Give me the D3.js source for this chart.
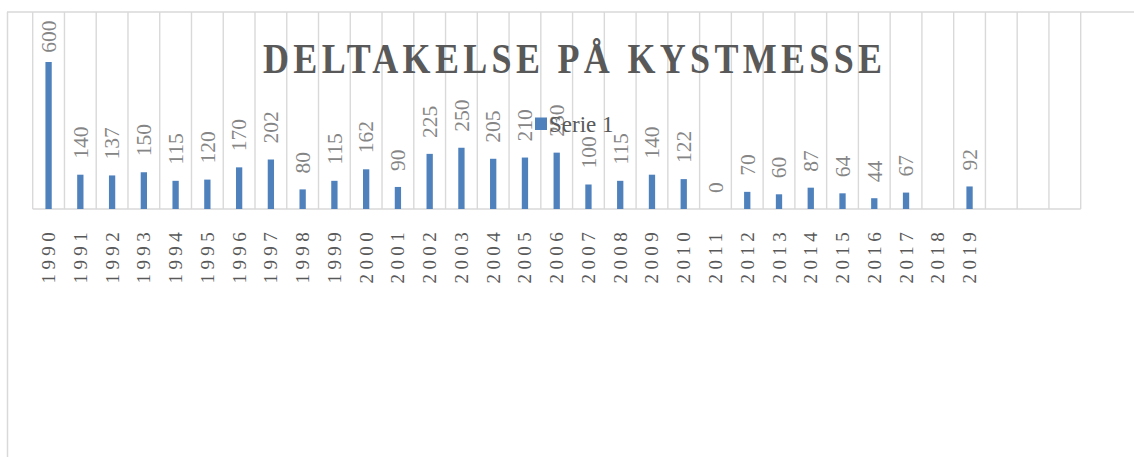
<!DOCTYPE html>
<html>
<head>
<meta charset="utf-8">
<script src="https://cdn.jsdelivr.net/npm/d3@7"></script>
<style>
  body { margin: 0; background: #fff; }
  svg { display: block; }
</style>
</head>
<body>
<div id="chart"></div>
<script>
// data
var years = ["1990", "1991", "1992", "1993", "1994", "1995", "1996", "1997", "1998", "1999",
  "2000", "2001", "2002", "2003", "2004", "2005", "2006", "2007", "2008", "2009",
  "2010", "2011", "2012", "2013", "2014", "2015", "2016", "2017", "2018", "2019"];
var blankSlots = ["_a", "_b", "_c"]; // empty categories at the right end
var values = [600, 140, 137, 150, 115, 120, 170, 202, 80, 115,
  162, 90, 225, 250, 205, 210, 230, 100, 115, 140,
  122, 0, 70, 60, 87, 64, 44, 67, null, 92];
var seriesName = "Serie 1";
var title = "DELTAKELSE PÅ KYSTMESSE";

var W = 1134, H = 457;
var plot = { left: 32.7, right: 1080.7, top: 12, bottom: 209 };
var serif = "'Liberation Serif', 'DejaVu Serif', serif";

var svg = d3.select("#chart").append("svg")
  .attr("width", W).attr("height", H);

// chart area border (top and left edges visible)
svg.append("line").attr("x1", 7).attr("x2", W).attr("y1", 12).attr("y2", 12)
  .attr("stroke", "#d9d9d9").attr("stroke-width", 1.5);
svg.append("line").attr("x1", 7.5).attr("x2", 7.5).attr("y1", 12).attr("y2", H)
  .attr("stroke", "#d9d9d9").attr("stroke-width", 1.5);

var cats = years.concat(blankSlots);
var x = d3.scaleBand().domain(cats).range([plot.left, plot.right]);
var y = d3.scaleLinear().domain([0, 800]).range([plot.bottom, 13]);

// vertical gridlines between categories
var bounds = cats.map(function (c) { return x(c); }).concat([plot.right]);
svg.append("g").selectAll("line").data(bounds).enter().append("line")
  .attr("x1", function (d) { return d; }).attr("x2", function (d) { return d; })
  .attr("y1", plot.top).attr("y2", plot.bottom)
  .attr("stroke", "#d9d9d9").attr("stroke-width", 1.4);

// baseline
svg.append("line").attr("x1", plot.left).attr("x2", plot.right)
  .attr("y1", plot.bottom).attr("y2", plot.bottom)
  .attr("stroke", "#d9d9d9").attr("stroke-width", 1.5);

var data = years.map(function (yr, i) { return { year: yr, value: values[i] }; })
  .filter(function (d) { return d.value !== null; });

var barW = 6.3;
svg.append("g").selectAll("rect").data(data).enter().append("rect")
  .attr("x", function (d) { return x(d.year) + x.bandwidth() / 2 - barW / 2; })
  .attr("y", function (d) { return y(d.value); })
  .attr("width", barW)
  .attr("height", function (d) { return plot.bottom - y(d.value); })
  .attr("fill", "#4f81bd");

// data labels, rotated
var labels = svg.append("g").selectAll("text").data(data).enter().append("text")
  .attr("font-family", serif).attr("font-size", 21.5).attr("fill", "#858585")
  .text(function (d) { return d.value; });
labels.each(function (d) {
  var len = this.getComputedTextLength();
  var start = y(d.value) - 16;
  if (start - len < 20.5) start = 20.5 + len; // keep inside the chart top
  var cx = x(d.year) + x.bandwidth() / 2 + 7.3;
  d3.select(this).attr("transform", "translate(" + cx + "," + start + ") rotate(-90)");
});

// category labels, rotated with spacing
svg.append("g").selectAll("text").data(years).enter().append("text")
  .attr("font-family", serif).attr("font-size", 19).attr("fill", "#595959")
  .attr("letter-spacing", "4.4px")
  .attr("transform", function (d) {
    return "translate(" + (x(d) + x.bandwidth() / 2 + 6.5) + ",283.5) rotate(-90)";
  })
  .text(function (d) { return d; });

// title
svg.append("text")
  .attr("font-family", serif).attr("font-weight", "bold").attr("font-size", 36)
  .attr("fill", "#595959").attr("text-anchor", "middle")
  .attr("textLength", 619).attr("lengthAdjust", "spacing")
  .attr("transform", "translate(572.5,72.5) scale(1,1.17)")
  .text(title);

// legend
svg.append("rect").attr("x", 535).attr("y", 117.5).attr("width", 12).attr("height", 12.5)
  .attr("fill", "#4f81bd");
svg.append("text").attr("x", 549).attr("y", 132)
  .attr("font-family", serif).attr("font-size", 23).attr("fill", "#595959")
  .text(seriesName);
</script>
</body>
</html>
